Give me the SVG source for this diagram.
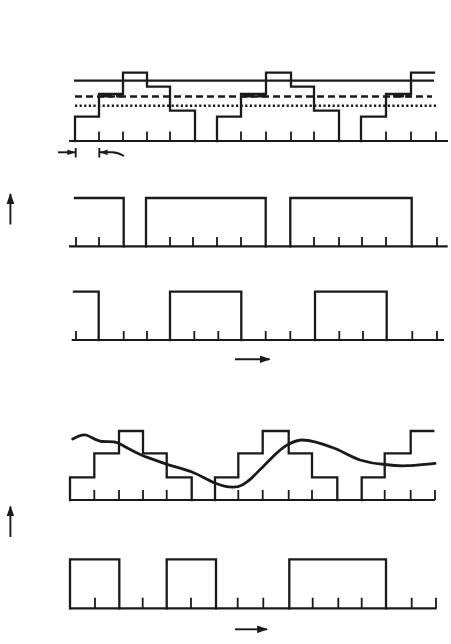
<svg xmlns="http://www.w3.org/2000/svg" width="451" height="644" viewBox="0 0 451 644">
<style>
.w{fill:none;stroke:#1a1a1a;stroke-width:2.3;stroke-linejoin:miter;stroke-linecap:square}
.b{fill:none;stroke:#1a1a1a;stroke-width:2.2}
.t{fill:none;stroke:#1a1a1a;stroke-width:1.8}
.ds{fill:none;stroke:#1a1a1a;stroke-width:2.4;stroke-dasharray:7 4}
.dt{fill:none;stroke:#1a1a1a;stroke-width:2.4;stroke-dasharray:2.2 2.4}
.cv{fill:none;stroke:#1a1a1a;stroke-width:2.8;stroke-linecap:round}
.ar{fill:none;stroke:#1a1a1a;stroke-width:1.9}
.blob{fill:#1a1a1a}
</style>
<defs>
<marker id="ah" viewBox="0 0 10 7" refX="9" refY="3.5" markerWidth="11" markerHeight="8" markerUnits="userSpaceOnUse" orient="auto">
<path d="M0,0 L10,3.5 L0,7 z" fill="#1a1a1a"/>
</marker>
<marker id="ahs" viewBox="0 0 10 7" refX="9.5" refY="3.5" markerWidth="8" markerHeight="6" markerUnits="userSpaceOnUse" orient="auto">
<path d="M0,0 L10,3.5 L0,7 z" fill="#1a1a1a"/>
</marker>
</defs>
<rect width="451" height="644" fill="#ffffff"/>

<g id="panel-staircase-thresholds">
<path class="b" d="M69,141 H448"/>
<path class="t" d="M99,131.5 V141 M123,131.5 V141 M147,131.5 V141 M170,131.5 V141 M241,131.5 V141 M266,131.5 V141 M291,131.5 V141 M314,131.5 V141 M386,131.5 V141 M411,131.5 V141 M436,131.5 V141"/>
<path class="b" d="M74,80.7 H434"/>
<path class="ds" d="M75,96.5 H432"/>
<path class="dt" d="M75,105.7 H437"/>
<path class="w" d="M75,141 V116.7 H99 V94 H123 V72.7 H147 V86.7 H170 V110.7 H195 V141"/>
<path class="w" d="M217,141 V116.7 H241 V94 H266 V72.7 H291 V86.7 H314 V110.7 H339 V141"/>
<path class="w" d="M361,141 V116.7 H386 V94 H411 V72.7 H434"/>
<rect class="blob" x="101" y="93" width="11" height="4.5"/>
<rect class="blob" x="116" y="93" width="7" height="4.5"/>
<rect class="blob" x="243" y="93" width="11" height="4.5"/>
<rect class="blob" x="258" y="93" width="8" height="4.5"/>
<rect class="blob" x="393" y="93" width="11" height="4.5"/>
<rect class="blob" x="406" y="93" width="5" height="4.5"/>
</g>

<g id="panel-pulse-a">
<path class="b" d="M69,246.3 H447.7"/>
<path class="t" d="M76,237 V246.3 M99,237 V246.3 M170,237 V246.3 M193,237 V246.3 M217,237 V246.3 M241,237 V246.3 M314,237 V246.3 M339,237 V246.3 M362,237 V246.3 M386,237 V246.3 M437,237 V246.3"/>
<path class="w" d="M75,198 H123.7 V246.3"/>
<path class="w" d="M146,246.3 V198 H265.7 V246.3"/>
<path class="w" d="M290.3,246.3 V198 H411.7 V246.3"/>
</g>

<g id="panel-pulse-b">
<path class="b" d="M71.7,340 H444"/>
<path class="t" d="M76,331 V340 M123.7,331 V340 M147,331 V340 M194.3,331 V340 M218.3,331 V340 M265.7,331 V340 M290.3,331 V340 M339.3,331 V340 M363,331 V340 M412.3,331 V340 M437,331 V340"/>
<path class="w" d="M74,291.7 H98.7 V340"/>
<path class="w" d="M170,340 V291.7 H241.3 V340"/>
<path class="w" d="M315,340 V291.7 H386.7 V340"/>
</g>

<g id="panel-staircase-curve">
<path class="b" d="M70,500 H435"/>
<path class="t" d="M94.3,490 V500 M119,490 V500 M143,490 V500 M166.7,490 V500 M238.3,490 V500 M262.7,490 V500 M288.7,490 V500 M312,490 V500 M384.7,490 V500 M410.7,490 V500 M435,490 V500"/>
<path class="w" d="M70,500 V477.3 H94.3 V453.3 H119 V431 H143 V453.3 H166.7 V477.3 H191.7 V500"/>
<path class="w" d="M215,500 V477.3 H238.3 V453.3 H262.7 V431 H288.7 V453.3 H312 V477.3 H337.3 V500"/>
<path class="w" d="M361.7,500 V477.3 H384.7 V453.3 H410.7 V431 H433.3"/>
<path class="cv" d="M72.7,439 C78,436 82,434 86,435 C92,437 96,441 102,441.5 C108,442 113,441 118,443 C126,447 134,452 143,455.7 C152,459 160,462 167,464.3 C176,467 184,469 192,472 C200,475 207,480 215,483 C222,486 230,488 238,486.7 C248,484 255,474 263,466.7 C272,458 280,448 289,444 C294,441.5 298,440 302,440 C314,440 326,445 337,449.3 C345,453 352,457 360,460 C368,462.5 376,464 385,464.5 C393,465.5 400,466 407,465.7 C416,465.5 426,464 435,463.3"/>
</g>

<g id="panel-pulse-c">
<path class="b" d="M70,608.3 H436.7"/>
<path class="t" d="M95,597.7 V608.3 M142.7,597.7 V608.3 M191,597.7 V608.3 M237.7,597.7 V608.3 M263.3,597.7 V608.3 M312.7,597.7 V608.3 M338.3,597.7 V608.3 M361.7,597.7 V608.3 M411.7,597.7 V608.3 M436,597.7 V608.3"/>
<path class="w" d="M70,608.3 V559.3 H119.3 V608.3"/>
<path class="w" d="M166.7,608.3 V559.3 H216 V608.3"/>
<path class="w" d="M289.3,608.3 V559.3 H386 V608.3"/>
</g>

<g id="connectors">
<path class="ar" d="M58,152.3 H75" marker-end="url(#ahs)"/>
<path class="ar" d="M75.7,148 V157.5"/>
<path class="ar" d="M99.3,148 V157.5"/>
<path class="ar" d="M124,156 Q118,152.3 112,152.3 H100" marker-end="url(#ahs)"/>
<path class="ar" d="M10.4,224.5 V194" marker-end="url(#ah)"/>
<path class="ar" d="M235,359.3 H269.5" marker-end="url(#ah)"/>
<path class="ar" d="M10.4,537 V506.5" marker-end="url(#ah)"/>
<path class="ar" d="M235,629.3 H267" marker-end="url(#ah)"/>
</g>
</svg>
